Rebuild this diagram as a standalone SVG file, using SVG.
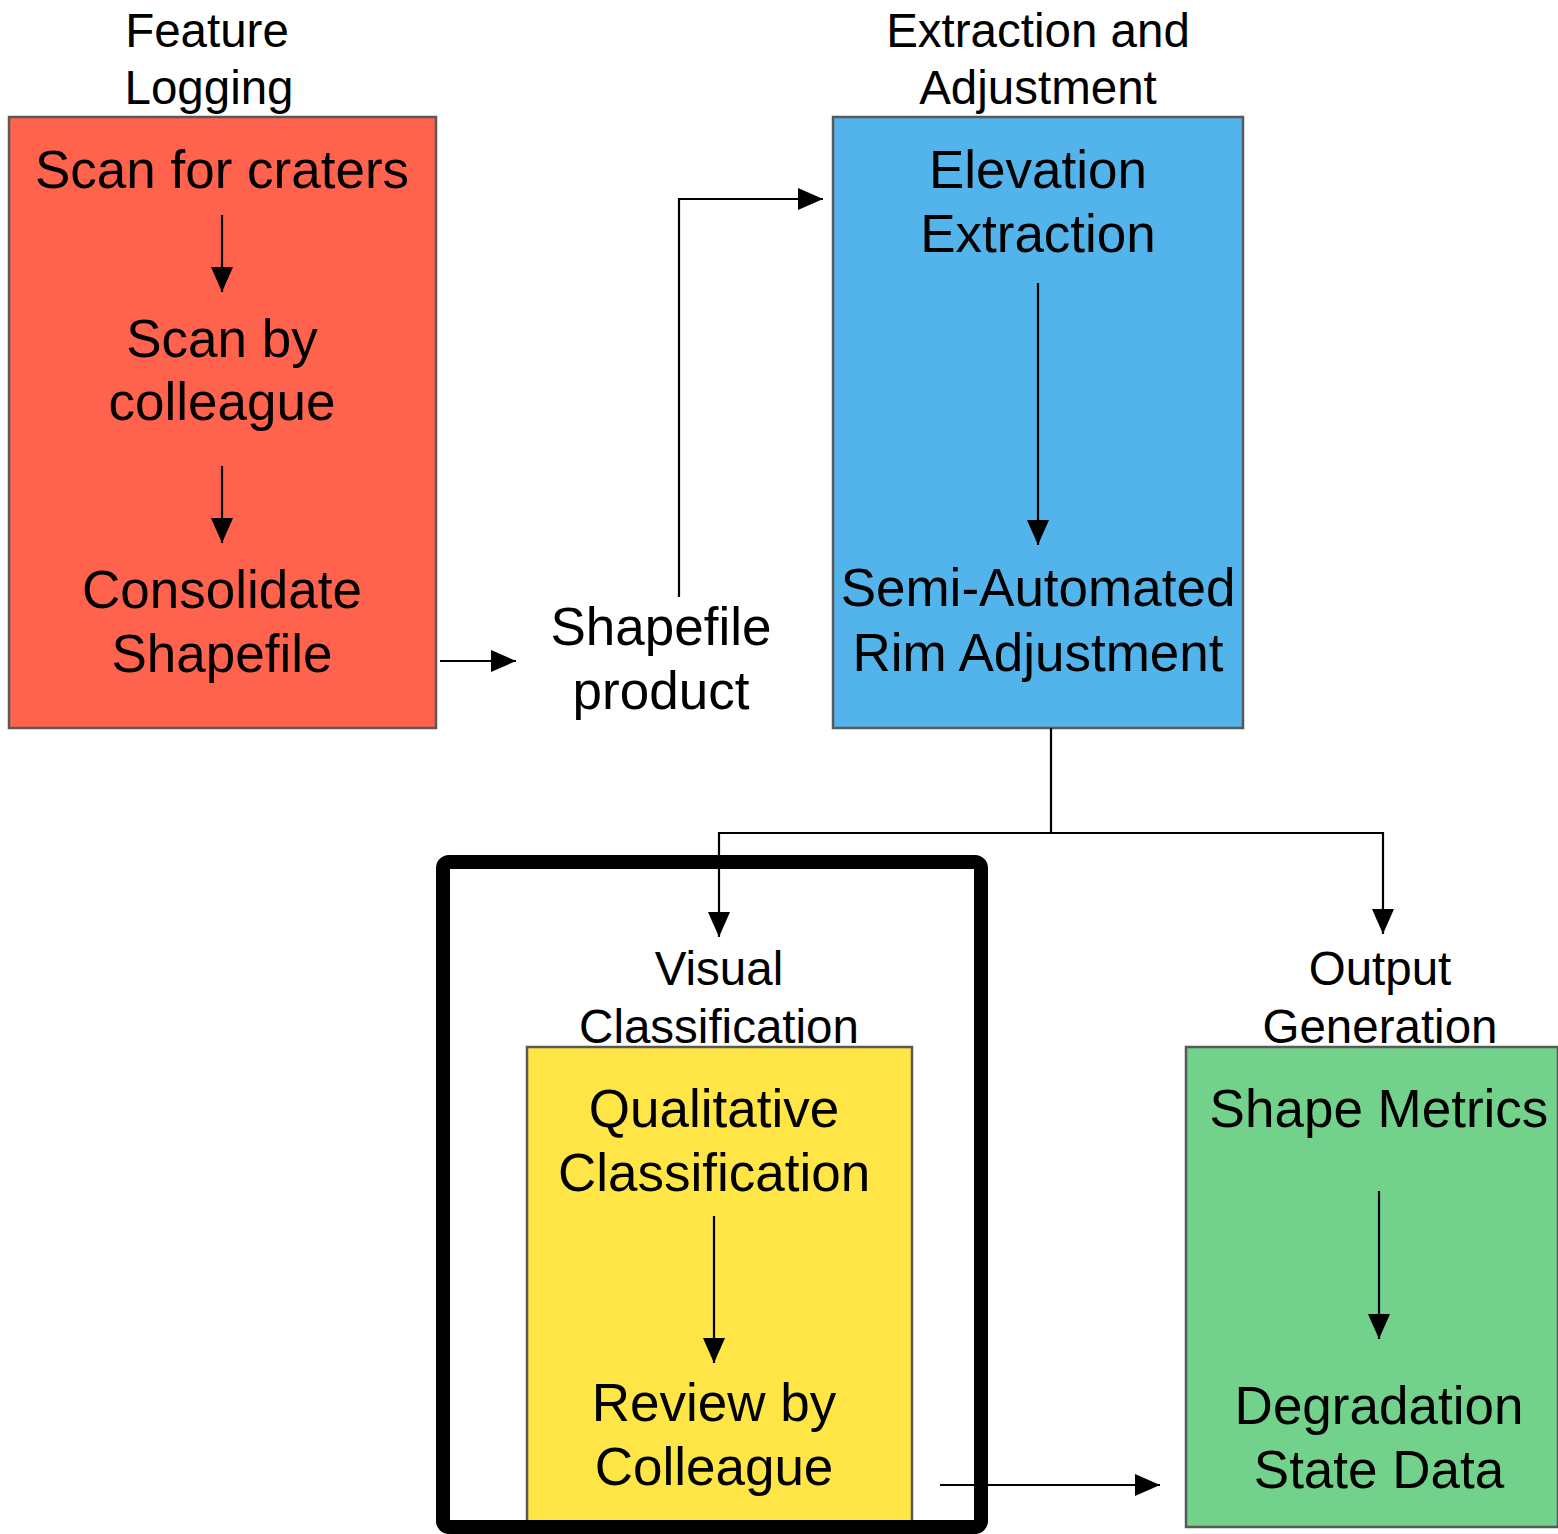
<svg xmlns="http://www.w3.org/2000/svg" width="1558" height="1534" viewBox="0 0 1558 1534">
<style>
text{font-family:"Liberation Sans",Arial,sans-serif;fill:#000;text-anchor:middle}
.n{font-size:53px}
.h{font-size:47.5px}
.box{stroke:#595959;stroke-width:2.5}
.c{fill:none;stroke:#000;stroke-width:2.2}
</style>
<defs>
<marker id="ah" markerWidth="25" markerHeight="22" refX="25" refY="11" orient="auto" markerUnits="userSpaceOnUse">
<path d="M0,0 L25,11 L0,22 Z" fill="#000"/>
</marker>
</defs>
<rect width="1558" height="1534" fill="#fff"/>
<g id="feature-logging">
<text class="h" x="207" y="47">Feature</text>
<text class="h" x="209" y="104">Logging</text>
<rect class="box" x="9" y="117" width="427" height="611" fill="#FF634D"/>
<text class="n" x="222" y="188">Scan for craters</text>
<text class="n" x="222" y="357">Scan by</text>
<text class="n" x="222" y="420">colleague</text>
<text class="n" x="222" y="608">Consolidate</text>
<text class="n" x="222" y="672">Shapefile</text>
</g>
<g id="shapefile-product">
<text class="n" x="661" y="645">Shapefile</text>
<text class="n" x="661" y="709">product</text>
</g>
<g id="extraction">
<text class="h" x="1038" y="47">Extraction and</text>
<text class="h" x="1038" y="104">Adjustment</text>
<rect class="box" x="833" y="117" width="410" height="611" fill="#52B4EA"/>
<text class="n" x="1038" y="188">Elevation</text>
<text class="n" x="1038" y="252">Extraction</text>
<text class="n" x="1038" y="606">Semi-Automated</text>
<text class="n" x="1038" y="671">Rim Adjustment</text>
</g>
<g id="visual-classification">
<rect x="443" y="862" width="538" height="665" rx="6" fill="#fff" stroke="#000" stroke-width="14"/>
<text class="h" x="719" y="985">Visual</text>
<text class="h" x="719" y="1043">Classification</text>
<rect class="box" x="527" y="1047" width="385" height="475" fill="#FFE646"/>
<rect x="440" y="1520" width="544" height="7" fill="#000"/>
<text class="n" x="714" y="1127">Qualitative</text>
<text class="n" x="714" y="1191">Classification</text>
<text class="n" x="714" y="1421">Review by</text>
<text class="n" x="714" y="1485">Colleague</text>
</g>
<g id="output-generation">
<text class="h" x="1380" y="985">Output</text>
<text class="h" x="1380" y="1043">Generation</text>
<rect class="box" x="1186" y="1047" width="372" height="480" fill="#72D18A"/>
<text class="n" x="1379" y="1127">Shape Metrics</text>
<text class="n" x="1379" y="1424">Degradation</text>
<text class="n" x="1379" y="1488">State Data</text>
</g>
<g id="connectors">
<path class="c" d="M222,215 V292" marker-end="url(#ah)"/>
<path class="c" d="M222,466 V543" marker-end="url(#ah)"/>
<path class="c" d="M440,661 H516" marker-end="url(#ah)"/>
<path class="c" d="M679,597 V199 H823" marker-end="url(#ah)"/>
<path class="c" d="M1038,283 V545" marker-end="url(#ah)"/>
<path class="c" d="M1051,728 V833 H719 V937" marker-end="url(#ah)"/>
<path class="c" d="M1051,833 H1383 V934" marker-end="url(#ah)"/>
<path class="c" d="M714,1216 V1363" marker-end="url(#ah)"/>
<path class="c" d="M1379,1191 V1339" marker-end="url(#ah)"/>
<path class="c" d="M940,1485 H1160" marker-end="url(#ah)"/>
</g>
</svg>
